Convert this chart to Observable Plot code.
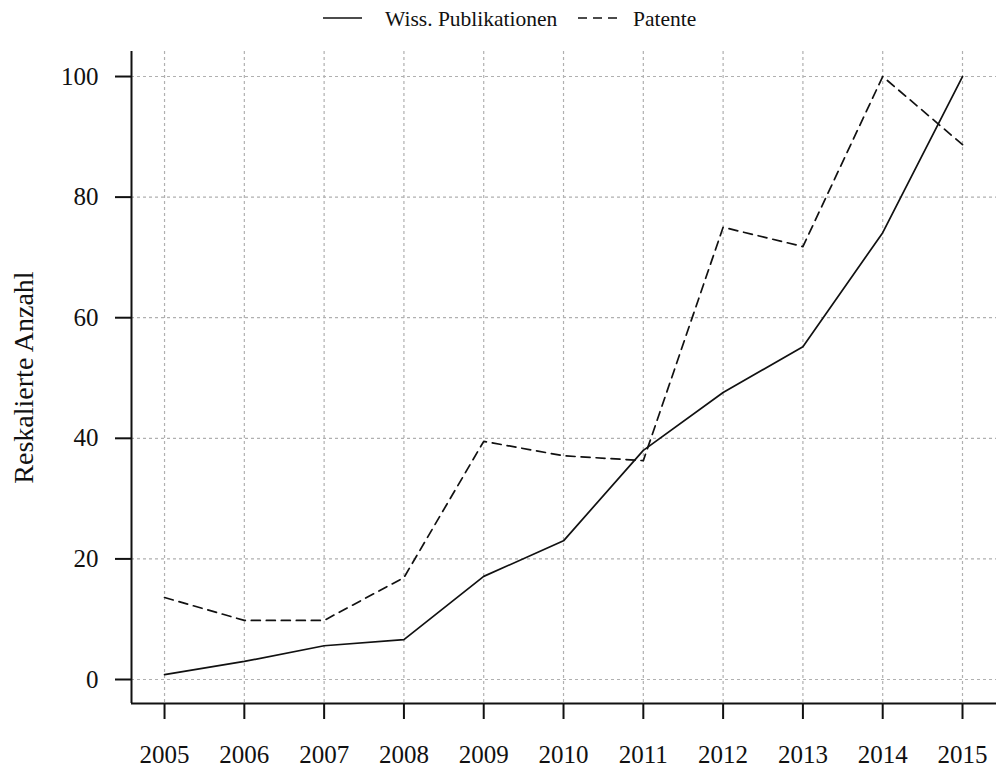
<!DOCTYPE html>
<html>
<head>
<meta charset="utf-8">
<script src="https://cdn.jsdelivr.net/npm/d3@7"></script>
<script src="https://cdn.jsdelivr.net/npm/@observablehq/plot@0.6"></script>
<style>
  html, body { margin: 0; padding: 0; background: #fff; }
  body { width: 996px; font-family: "Liberation Serif", serif; }
  #legend { height: 36px; width: 996px; display: block; }
</style>
</head>
<body>
<svg id="legend" width="996" height="36"></svg>
<div id="chart"></div>
<script>
const years = [2005, 2006, 2007, 2008, 2009, 2010, 2011, 2012, 2013, 2014, 2015];
const publikationen = [0.8, 3.0, 5.6, 6.6, 17.1, 23.0, 38.0, 47.6, 55.2, 74.1, 100];
const patente = [13.6, 9.8, 9.8, 16.9, 39.5, 37.1, 36.3, 75.0, 71.8, 100, 88.7];
const yTicks = [0, 20, 40, 60, 80, 100];
const seriesNames = ["Wiss. Publikationen", "Patente"];

const rows = [];
years.forEach((y, i) => {
  rows.push({year: y, value: publikationen[i], series: seriesNames[0]});
  rows.push({year: y, value: patente[i], series: seriesNames[1]});
});

// legend
const lg = d3.select("#legend");
const legendItems = [
  {name: seriesNames[0], x1: 323, x2: 362, tx: 385, dash: null},
  {name: seriesNames[1], x1: 578, x2: 618, tx: 633, dash: "9,6"}
];
legendItems.forEach(d => {
  lg.append("line").attr("x1", d.x1).attr("x2", d.x2).attr("y1", 18).attr("y2", 18)
    .attr("stroke", "#111").attr("stroke-width", 1.6)
    .attr("stroke-dasharray", d.dash);
  lg.append("text").attr("x", d.tx).attr("y", 18).attr("dy", "0.35em")
    .attr("font-family", "Liberation Serif").attr("font-size", 21.5).attr("fill", "#111")
    .text(d.name);
});

const xDomain = [2004.586, 2015.426];
const yDomain = [-3.98, 104.15];

const chart = Plot.plot({
  width: 996,
  height: 731,
  marginLeft: 131,
  marginRight: 0,
  marginTop: 15,
  marginBottom: 64,
  style: {fontFamily: "Liberation Serif", color: "#111", background: "#fff"},
  x: {domain: xDomain},
  y: {domain: yDomain},
  marks: [
    Plot.gridX(years, {stroke: "#b0b0b0", strokeOpacity: 1, strokeWidth: 1.2, strokeDasharray: "3,3"}),
    Plot.gridY(yTicks, {stroke: "#b0b0b0", strokeOpacity: 1, strokeWidth: 1.2, strokeDasharray: "3,3"}),
    Plot.ruleX([xDomain[0]], {stroke: "#111", strokeWidth: 2}),
    Plot.ruleY([yDomain[0]], {stroke: "#111", strokeWidth: 2}),
    Plot.axisY(yTicks, {tickSize: 16, tickPadding: 17, fontSize: 25, strokeWidth: 2, label: null}),
    Plot.axisY([], {fontSize: 28, label: "Reskalierte Anzahl", labelAnchor: "center",
      labelArrow: "none", labelOffset: 118}),
    Plot.axisX(years, {tickSize: 16, tickPadding: 26, fontSize: 25, strokeWidth: 2,
      tickFormat: d => String(d), label: null}),
    Plot.line(rows.filter(d => d.series === seriesNames[0]),
      {x: "year", y: "value", stroke: "#111", strokeWidth: 1.7}),
    Plot.line(rows.filter(d => d.series === seriesNames[1]),
      {x: "year", y: "value", stroke: "#111", strokeWidth: 1.7, strokeDasharray: "9,6"})
  ]
});
document.getElementById("chart").appendChild(chart);
</script>
</body>
</html>
